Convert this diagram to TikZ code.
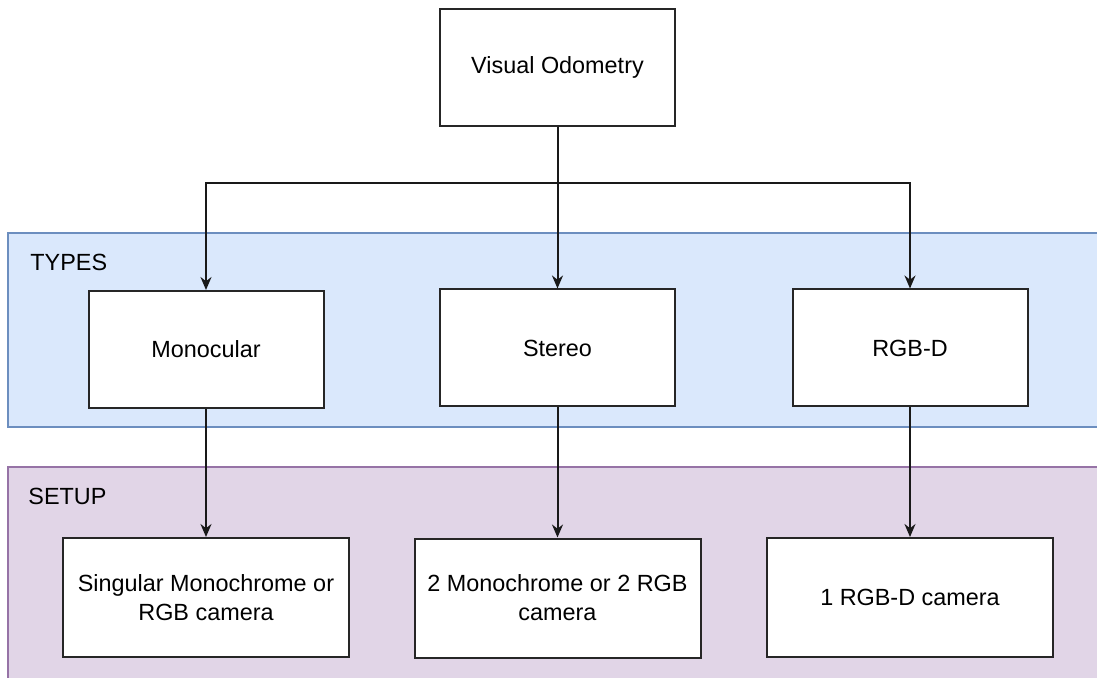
\documentclass[tikz,border=0pt]{standalone}
\usepackage{fontspec}
\setmainfont{Liberation Sans}
\usepackage{tikz}
\usetikzlibrary{arrows.meta}

\definecolor{typesfill}{HTML}{DAE8FC}
\definecolor{typesline}{HTML}{6C8EBF}
\definecolor{setupfill}{HTML}{E1D5E7}
\definecolor{setupline}{HTML}{9673A6}

\begin{document}
\begin{tikzpicture}[x=0.5pt,y=-0.5pt,
  box/.style={draw=black!85,fill=white,line width=1pt,align=center,
    minimum width=117.5pt,minimum height=58.5pt,inner sep=2pt,
    font=\fontsize{11.7}{14.5}\selectfont},
  widebox/.style={box,minimum width=143pt,minimum height=59.5pt},
  band/.style={line width=0.8pt},
  tag/.style={anchor=west,inner sep=0pt,font=\fontsize{11.7}{14}\selectfont},
  link/.style={draw=black!90,line width=1pt,-{Stealth[length=6.5pt,width=5.5pt]}}]
\clip (0,0) rectangle (1097,678);
% layers
\draw[band,fill=typesfill,draw=typesline] (8,233) rectangle (1120,427);
\draw[band,fill=setupfill,draw=setupline] (8,467) rectangle (1120,700);
\node[tag] (LT) at (30,262.5) {TYPES};
\node[tag] (LS) at (28,496.5) {SETUP};
% boxes
\node[box] (VO) at (557.5,67.5) {Visual Odometry};
\node[box] (T1) at (206,349.5) {Monocular};
\node[box] (T2) at (557.5,348) {Stereo};
\node[box] (T3) at (910,348) {RGB-D};
\node[widebox] (S1) at (206,597.5) {Singular Monochrome or\\RGB camera};
\node[widebox] (S2) at (557.5,598) {2 Monochrome or 2 RGB\\camera};
\node[widebox] (S3) at (910,597.5) {1 RGB-D camera};
\coordinate (fork) at (557.5,183.5);
% connectors
\draw[link] (VO) -- (fork) -| (T1);
\draw[link] (VO) -- (T2);
\draw[link] (VO) -- (fork) -| (T3);
\draw[link] (T1) -- (S1);
\draw[link] (T2) -- (S2);
\draw[link] (T3) -- (S3);
\end{tikzpicture}
\end{document}
